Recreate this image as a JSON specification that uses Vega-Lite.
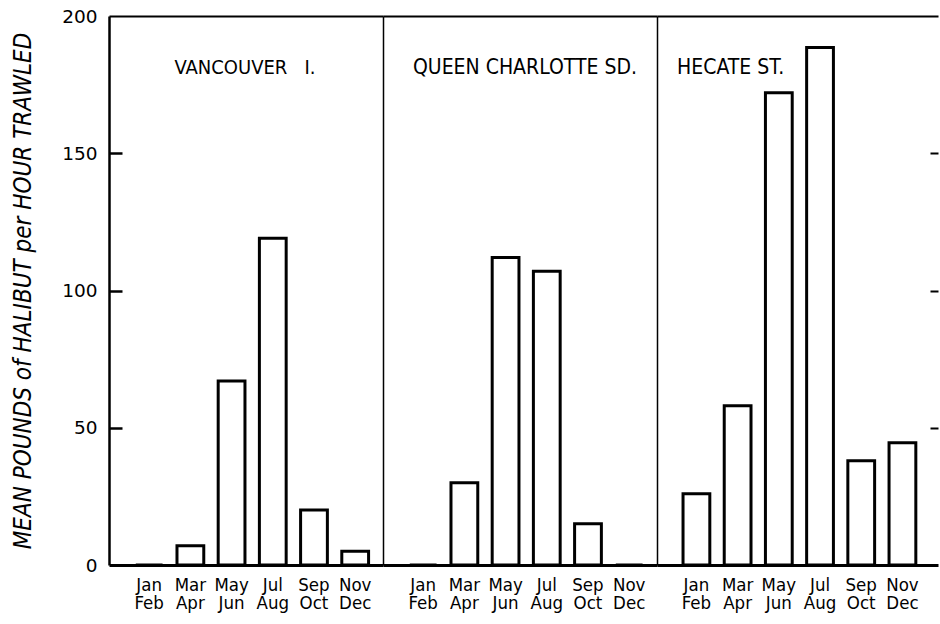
{
  "$schema": "https://vega.github.io/schema/vega-lite/v6.json",
  "autosize": {"type": "pad"},
  "padding": {"left": 11, "top": 7, "right": 0, "bottom": 5},
  "background": "white",
  "bounds": "flush",
  "spacing": 0,
  "config": {
    "view": {"stroke": null},
    "font": "DejaVu Sans",
    "axis": {"grid": false, "domainColor": "black", "tickColor": "black", "labelColor": "black", "titleColor": "black"}
  },
  "datasets": {
    "catch": [
      {"region": "VANCOUVER I.", "months": "Jan Feb", "value": 0},
      {"region": "VANCOUVER I.", "months": "Mar Apr", "value": 7},
      {"region": "VANCOUVER I.", "months": "May Jun", "value": 67},
      {"region": "VANCOUVER I.", "months": "Jul Aug", "value": 119},
      {"region": "VANCOUVER I.", "months": "Sep Oct", "value": 20},
      {"region": "VANCOUVER I.", "months": "Nov Dec", "value": 5},
      {"region": "QUEEN CHARLOTTE SD.", "months": "Jan Feb", "value": 0},
      {"region": "QUEEN CHARLOTTE SD.", "months": "Mar Apr", "value": 30},
      {"region": "QUEEN CHARLOTTE SD.", "months": "May Jun", "value": 112},
      {"region": "QUEEN CHARLOTTE SD.", "months": "Jul Aug", "value": 107},
      {"region": "QUEEN CHARLOTTE SD.", "months": "Sep Oct", "value": 15},
      {"region": "QUEEN CHARLOTTE SD.", "months": "Nov Dec", "value": 0},
      {"region": "HECATE ST.", "months": "Jan Feb", "value": 26},
      {"region": "HECATE ST.", "months": "Mar Apr", "value": 58},
      {"region": "HECATE ST.", "months": "May Jun", "value": 172},
      {"region": "HECATE ST.", "months": "Jul Aug", "value": 188.5},
      {"region": "HECATE ST.", "months": "Sep Oct", "value": 38},
      {"region": "HECATE ST.", "months": "Nov Dec", "value": 44.5}
    ]
  },
  "data": {"name": "catch"},
  "hconcat": [
    {
      "width": 274,
      "height": 549,
      "layer": [
        {
          "transform": [{"filter": "datum.region === 'VANCOUVER I.'"}],
          "mark": {"type": "bar", "fill": "white", "stroke": "black", "strokeWidth": 3, "strokeJoin": "miter"},
          "encoding": {
            "x": {
              "field": "months", "type": "nominal",
              "scale": {"domain": ["Jan Feb", "Mar Apr", "May Jun", "Jul Aug", "Sep Oct", "Nov Dec"], "paddingInner": 0.35, "paddingOuter": 0.5, "align": 0.65},
              "axis": {"orient": "bottom", "title": null, "ticks": false, "domain": true, "domainWidth": 3, "labelExpr": "split(datum.label, ' ')", "labelFont": "DejaVu Sans Condensed, DejaVu Sans", "labelFontSize": 18.5, "labelPadding": 10, "labelBaseline": "top", "labelLineHeight": 18, "labelAngle": 0}
            },
            "y": {
              "field": "value", "type": "quantitative",
              "scale": {"domain": [0, 200], "nice": false},
              "axis": {"orient": "left", "values": [0, 50, 100, 150, 200], "ticks": false, "domainWidth": 2.5, "labelPadding": 12, "labelFontSize": 18.5, "labelFont": "DejaVu Sans", "title": "MEAN POUNDS of HALIBUT per HOUR TRAWLED", "titleFont": "DejaVu Sans Condensed, DejaVu Sans", "titleFontStyle": "italic", "titleFontWeight": "normal", "titleFontSize": 24, "titlePadding": 26}
            }
          }
        },
        {
          "data": {"values": [{"label": "VANCOUVER\u00a0\u00a0 I."}]},
          "mark": {"type": "text", "font": "DejaVu Sans Condensed, DejaVu Sans", "fontSize": 20, "baseline": "middle", "align": "center", "color": "black"},
          "encoding": {
            "text": {"field": "label"},
            "x": {"datum": "May Jun", "bandPosition": 1, "axis": {"orient": "top", "labels": false, "ticks": false, "domain": true, "domainWidth": 2, "title": null}},
            "y": {"datum": 181, "axis": {"orient": "left", "values": [50, 100, 150], "offset": -13, "tickSize": 13, "tickWidth": 2.5, "labels": false, "domain": false, "title": null}}
          }
        }
      ],
      "resolve": {"axis": {"x": "independent", "y": "independent"}}
    },
    {
      "width": 274,
      "height": 549,
      "layer": [
        {
          "transform": [{"filter": "datum.region === 'QUEEN CHARLOTTE SD.'"}],
          "mark": {"type": "bar", "fill": "white", "stroke": "black", "strokeWidth": 3, "strokeJoin": "miter"},
          "encoding": {
            "x": {
              "field": "months", "type": "nominal",
              "scale": {"domain": ["Jan Feb", "Mar Apr", "May Jun", "Jul Aug", "Sep Oct", "Nov Dec"], "paddingInner": 0.35, "paddingOuter": 0.5, "align": 0.65},
              "axis": {"orient": "bottom", "title": null, "ticks": false, "domain": true, "domainWidth": 3, "labelExpr": "split(datum.label, ' ')", "labelFont": "DejaVu Sans Condensed, DejaVu Sans", "labelFontSize": 18.5, "labelPadding": 10, "labelBaseline": "top", "labelLineHeight": 18, "labelAngle": 0}
            },
            "y": {
              "field": "value", "type": "quantitative",
              "scale": {"domain": [0, 200], "nice": false},
              "axis": {"orient": "left", "ticks": false, "labels": false, "domain": true, "domainWidth": 1.5, "title": null}
            }
          }
        },
        {
          "data": {"values": [{"label": "QUEEN CHARLOTTE SD."}]},
          "mark": {"type": "text", "font": "DejaVu Sans Condensed, DejaVu Sans", "fontSize": 21, "baseline": "middle", "align": "center", "dx": 6, "color": "black"},
          "encoding": {
            "text": {"field": "label"},
            "x": {"datum": "May Jun", "bandPosition": 1, "axis": {"orient": "top", "labels": false, "ticks": false, "domain": true, "domainWidth": 2, "title": null}},
            "y": {"datum": 181, "axis": null}
          }
        }
      ],
      "resolve": {"axis": {"x": "independent", "y": "independent"}}
    },
    {
      "width": 281,
      "height": 549,
      "layer": [
        {
          "transform": [{"filter": "datum.region === 'HECATE ST.'"}],
          "mark": {"type": "bar", "fill": "white", "stroke": "black", "strokeWidth": 3, "strokeJoin": "miter"},
          "encoding": {
            "x": {
              "field": "months", "type": "nominal",
              "scale": {"domain": ["Jan Feb", "Mar Apr", "May Jun", "Jul Aug", "Sep Oct", "Nov Dec"], "paddingInner": 0.35, "paddingOuter": 0.585, "align": 0.54},
              "axis": {"orient": "bottom", "title": null, "ticks": false, "domain": true, "domainWidth": 3, "labelExpr": "split(datum.label, ' ')", "labelFont": "DejaVu Sans Condensed, DejaVu Sans", "labelFontSize": 18.5, "labelPadding": 10, "labelBaseline": "top", "labelLineHeight": 18, "labelAngle": 0}
            },
            "y": {
              "field": "value", "type": "quantitative",
              "scale": {"domain": [0, 200], "nice": false},
              "axis": {"orient": "left", "ticks": false, "labels": false, "domain": true, "domainWidth": 1.5, "title": null}
            }
          }
        },
        {
          "data": {"values": [{"label": "HECATE ST."}]},
          "mark": {"type": "text", "font": "DejaVu Sans Condensed, DejaVu Sans", "fontSize": 21, "baseline": "middle", "align": "left", "dx": -6, "color": "black"},
          "encoding": {
            "text": {"field": "label"},
            "x": {"datum": "Jan Feb", "bandPosition": 0, "axis": {"orient": "top", "labels": false, "ticks": false, "domain": true, "domainWidth": 2, "title": null}},
            "y": {"datum": 181, "axis": {"orient": "right", "values": [50, 100, 150], "tickSize": -8, "tickWidth": 2, "labels": false, "domain": false, "title": null}}
          }
        }
      ],
      "resolve": {"axis": {"x": "independent", "y": "independent"}}
    }
  ]
}
